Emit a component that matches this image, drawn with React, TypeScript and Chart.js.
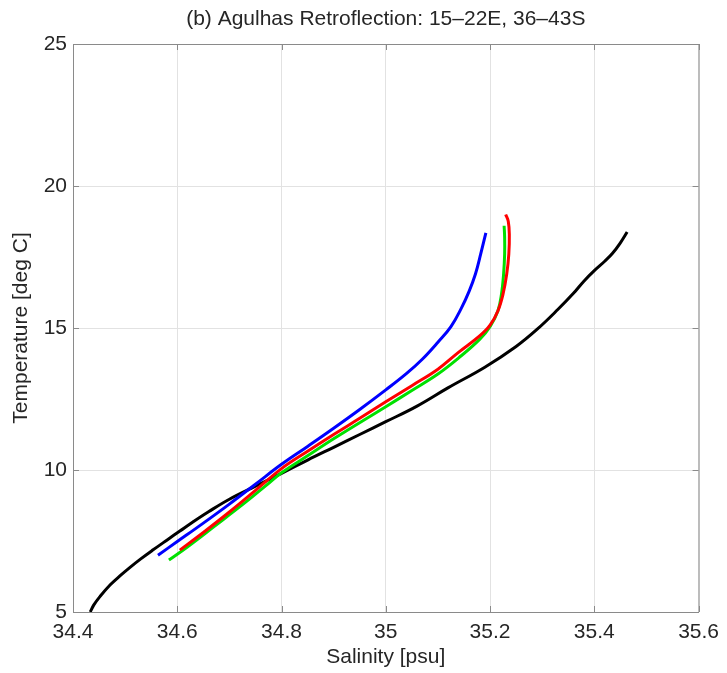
import React, { useEffect, useRef } from "react";
import { Chart, registerables } from "chart.js";

Chart.register(...registerables);

const TITLE = "(b) Agulhas Retroflection: 15–22E, 36–43S";
const X_LABEL = "Salinity [psu]";
const Y_LABEL = "Temperature [deg C]";

const X_TICKS = [34.4, 34.6, 34.8, 35.0, 35.2, 35.4, 35.6];
const Y_TICKS = [5, 10, 15, 20, 25];

// T-S profiles: salinity [psu] and temperature [deg C]
const blackS = [34.433, 34.44, 34.452, 34.471, 34.49, 34.51, 34.53, 34.553, 34.58, 34.605, 34.63, 34.66, 34.7, 34.75, 34.8, 34.85, 34.9, 34.95, 35.0, 35.06, 35.12, 35.19, 35.25, 35.29, 35.33, 35.36, 35.38, 35.4, 35.42, 35.435, 35.45, 35.463];
const blackT = [5.0, 5.25, 5.55, 5.95, 6.27, 6.58, 6.87, 7.18, 7.53, 7.85, 8.17, 8.53, 8.97, 9.43, 9.88, 10.35, 10.8, 11.25, 11.7, 12.25, 12.9, 13.62, 14.35, 14.95, 15.65, 16.22, 16.65, 17.02, 17.35, 17.63, 18.0, 18.38];

const blueS = [34.563, 34.6, 34.65, 34.7, 34.75, 34.8, 34.85, 34.9, 34.95, 35.0, 35.04, 35.07, 35.1, 35.125, 35.145, 35.16, 35.172, 35.182, 35.192];
const blueT = [7.0, 7.48, 8.13, 8.8, 9.5, 10.2, 10.83, 11.47, 12.13, 12.82, 13.4, 13.9, 14.5, 15.05, 15.7, 16.3, 16.9, 17.6, 18.35];

const redS = [34.605, 34.65, 34.7, 34.75, 34.8, 34.85, 34.9, 34.95, 35.0, 35.05, 35.1, 35.14, 35.18, 35.2, 35.215, 35.225, 35.232, 35.236, 35.237, 35.235, 35.23];
const redT = [7.18, 7.8, 8.52, 9.28, 10.05, 10.66, 11.25, 11.82, 12.4, 12.97, 13.55, 14.15, 14.72, 15.1, 15.6, 16.2, 16.9, 17.6, 18.3, 18.75, 19.0];

const greenS = [34.584, 34.62, 34.67, 34.73, 34.77, 34.8, 34.85, 34.9, 35.0, 35.05, 35.1, 35.14, 35.18, 35.2, 35.215, 35.222, 35.226, 35.228, 35.228, 35.227];
const greenT = [6.83, 7.3, 8.0, 8.85, 9.45, 9.9, 10.5, 11.1, 12.23, 12.8, 13.38, 13.95, 14.6, 15.05, 15.6, 16.2, 16.9, 17.6, 18.2, 18.6];

const FONT = "'Liberation Sans', Arial, Helvetica, sans-serif";
const TEXT = "#262626";
const BOX = "#8a8a8a";
const GRID = "#e2e2e2";

const pts = (s: number[], t: number[]) => s.map((x, i) => ({ x, y: t[i] }));

const fmt = (v: number) => String(Number(Number(v).toFixed(1)));

// Title plus the top/right box edges and inward tick marks
const framePlugin = {
  id: "frame",
  afterDraw(chart: any) {
    const { ctx, chartArea: a, scales } = chart;
    ctx.save();
    ctx.strokeStyle = BOX;
    ctx.lineWidth = 1;
    ctx.beginPath();
    ctx.moveTo(a.left, a.top + 0.5);
    ctx.lineTo(a.right + 0.5, a.top + 0.5);
    ctx.lineTo(a.right + 0.5, a.bottom);
    ctx.stroke();
    const tl = 6;
    ctx.beginPath();
    for (const v of X_TICKS) {
      const x = Math.round(scales.x.getPixelForValue(v)) + 0.5;
      ctx.moveTo(x, a.bottom);
      ctx.lineTo(x, a.bottom - tl);
      ctx.moveTo(x, a.top);
      ctx.lineTo(x, a.top + tl);
    }
    for (const v of Y_TICKS) {
      const y = Math.round(scales.y.getPixelForValue(v)) + 0.5;
      ctx.moveTo(a.left, y);
      ctx.lineTo(a.left + tl, y);
      ctx.moveTo(a.right, y);
      ctx.lineTo(a.right - tl, y);
    }
    ctx.stroke();
    ctx.fillStyle = TEXT;
    ctx.font = `21px ${FONT}`;
    ctx.textAlign = "center";
    ctx.textBaseline = "middle";
    ctx.fillText(TITLE, (a.left + a.right) / 2, 19);
    ctx.restore();
  },
};

export default function App() {
  const ref = useRef<HTMLCanvasElement | null>(null);

  useEffect(() => {
    if (!ref.current) return;
    const line = (data: any[], color: string) => ({
      data,
      borderColor: color,
      backgroundColor: color,
      borderWidth: 3,
      pointRadius: 0,
      showLine: true,
      tension: 0.4,
      fill: false,
    });
    const chart = new Chart(ref.current, {
      type: "scatter",
      data: {
        datasets: [
          line(pts(blueS, blueT), "#0000ff"),
          line(pts(redS, redT), "#ff0000"),
          line(pts(greenS, greenT), "#00e000"),
          line(pts(blackS, blackT), "#000000"),
        ],
      },
      plugins: [framePlugin],
      options: {
        animation: false,
        responsive: false,
        maintainAspectRatio: false,
        layout: { padding: { top: 44, right: 27, left: 0, bottom: 0 } },
        plugins: {
          legend: { display: false },
          tooltip: { enabled: false },
          title: { display: false },
        },
        scales: {
          x: {
            type: "linear",
            min: 34.4,
            max: 35.6,
            afterBuildTicks: (s: any) => {
              s.ticks = X_TICKS.map((value) => ({ value }));
            },
            afterFit: (s: any) => {
              s.height = 61;
            },
            grid: { color: GRID, drawTicks: false },
            border: { color: BOX, width: 1 },
            ticks: {
              padding: 8,
              color: TEXT,
              font: { family: FONT, size: 21 },
              maxRotation: 0,
              callback: (v: any) => fmt(v),
            },
            title: {
              display: true,
              text: X_LABEL,
              color: TEXT,
              font: { family: FONT, size: 21 },
              padding: { top: 0, bottom: 3 },
            },
          },
          y: {
            type: "linear",
            min: 5,
            max: 25,
            afterBuildTicks: (s: any) => {
              s.ticks = Y_TICKS.map((value) => ({ value }));
            },
            afterFit: (s: any) => {
              s.width = 73;
            },
            grid: { color: GRID, drawTicks: false },
            border: { color: BOX, width: 1 },
            ticks: {
              padding: 6,
              color: TEXT,
              font: { family: FONT, size: 21 },
              callback: (v: any) => fmt(v),
            },
            title: {
              display: true,
              text: Y_LABEL,
              color: TEXT,
              font: { family: FONT, size: 21 },
              padding: { top: 9, bottom: 0 },
            },
          },
        },
      },
    } as any);
    return () => chart.destroy();
  }, []);

  return (
    <div style={{ position: "absolute", left: 0, top: 0, width: 727, height: 673, background: "#fff" }}>
      <canvas ref={ref} width={727} height={673} style={{ width: 727, height: 673, display: "block" }} />
    </div>
  );
}
